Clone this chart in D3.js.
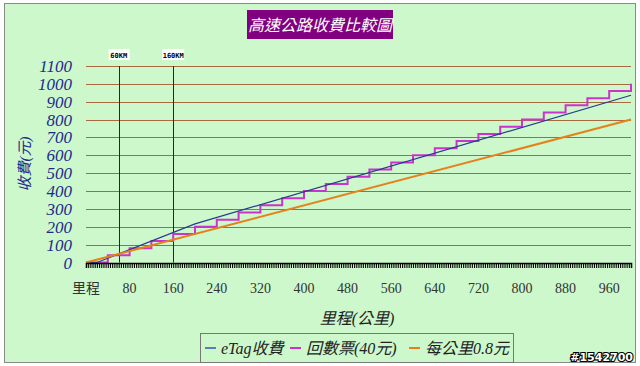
<!DOCTYPE html>
<html>
<head>
<meta charset="utf-8">
<script src="https://cdn.jsdelivr.net/npm/d3@7"></script>
<style>
  body { margin: 0; background: #fff; }
  svg { display: block; }
  .serif { font-family: "Liberation Serif", "Times New Roman", "Noto Sans CJK TC", serif; }
</style>
</head>
<body>
<div id="chart"></div>
<script>
// data
const yTicks = [0, 100, 200, 300, 400, 500, 600, 700, 800, 900, 1000, 1100];
const xTicks = [80, 160, 240, 320, 400, 480, 560, 640, 720, 800, 880, 960];
const markers = [60, 160];

// eTag: breakpoints of the rate (km, fee)
const etagKm = [0, 20, 200, 1000];
const etagFee = [0, 0, 216, 936];

// ticket (40 per step)
const ticketKm = [0, 40, 80, 120, 160, 200, 240, 280, 320, 360, 400, 440, 480, 520,
    560, 600, 640, 680, 720, 760, 800, 840, 880, 920, 960, 1000];
const ticketFee = [0, 40, 80, 120, 160, 200, 240, 280, 320, 360, 400, 440, 480, 520,
    560, 600, 640, 680, 720, 760, 800, 840, 880, 920, 960, 1000];

// 0.8 per km
const flatKm = [0, 1000];
const flatFee = [0, 800];

const width = 640, height = 366;

const svg = d3.select("#chart")
    .append("svg")
    .attr("width", width)
    .attr("height", height);

// chart area background
svg.append("rect")
    .attr("x", 4.5).attr("y", 3.5)
    .attr("width", 631).attr("height", 359)
    .attr("fill", "#ccf8cc")
    .attr("stroke", "#8a8a8a")
    .attr("stroke-width", 1);

const x = d3.scaleLinear().domain([0, 1000]).range([86, 631]);
const y = d3.scaleLinear().domain([0, 1100]).range([262.5, 66]);

// horizontal grid
svg.append("g")
    .selectAll("line")
    .data(yTicks)
    .join("line")
    .attr("x1", x(0)).attr("x2", x(1000))
    .attr("y1", d => Math.round(y(d)) + 0.5)
    .attr("y2", d => Math.round(y(d)) + 0.5)
    .attr("stroke", "#aa6a40")
    .attr("stroke-width", 1);

// y labels
svg.append("g")
    .selectAll("text")
    .data(yTicks)
    .join("text")
    .attr("class", "serif")
    .attr("x", 72)
    .attr("y", d => y(d) + 6)
    .attr("text-anchor", "end")
    .style("font-style", "italic")
    .style("font-size", "17px")
    .attr("fill", "#1c2a8c")
    .text(d => d);

// y title
svg.append("text")
    .attr("class", "serif")
    .attr("transform", "translate(30,164) rotate(-90)")
    .attr("text-anchor", "middle")
    .style("font-style", "italic")
    .style("font-size", "15px")
    .attr("fill", "#1c2a8c")
    .text("收費(元)");

// marker lines at 60 / 160 km
svg.append("g")
    .selectAll("line")
    .data(markers)
    .join("line")
    .attr("x1", d => Math.round(x(d)) + 0.5)
    .attr("x2", d => Math.round(x(d)) + 0.5)
    .attr("y1", y(1100)).attr("y2", y(0))
    .attr("stroke", "#5a1500")
    .attr("stroke-width", 1);

const mk = svg.append("g")
    .selectAll("g")
    .data(markers)
    .join("g")
    .attr("transform", d => `translate(${x(d)},55)`);
mk.append("rect")
    .attr("x", d => d < 100 ? -10 : -11)
    .attr("y", -6)
    .attr("width", d => d < 100 ? 21 : 22)
    .attr("height", 11)
    .attr("fill", "#fff");
mk.append("text")
    .attr("text-anchor", "middle")
    .attr("y", 2.5)
    .style("font-family", "'DejaVu Sans Mono', monospace")
    .style("font-weight", "bold")
    .style("font-size", "7px")
    .attr("fill", "#000")
    .text(d => d + "KM");

// series
const line = d3.line().x(d => x(d[0])).y(d => y(d[1]));

svg.append("path")
    .datum(d3.zip(ticketKm, ticketFee))
    .attr("fill", "none")
    .attr("stroke", "#cc33cc")
    .attr("stroke-width", 2)
    .attr("d", line.curve(d3.curveStepAfter));

svg.append("path")
    .datum(d3.zip(etagKm, etagFee))
    .attr("fill", "none")
    .attr("stroke", "#233d8c")
    .attr("stroke-width", 1.2)
    .attr("d", line.curve(d3.curveLinear));

svg.append("path")
    .datum(d3.zip(flatKm, flatFee))
    .attr("fill", "none")
    .attr("stroke", "#e8801a")
    .attr("stroke-width", 2)
    .attr("d", line.curve(d3.curveLinear));

// dense category ticks along the x axis
svg.append("g")
    .attr("transform", `translate(0,${Math.round(y(0))})`)
    .call(d3.axisBottom(x).tickValues(d3.range(0, 1001, 4)).tickSize(5).tickFormat(""))
    .call(g => g.select(".domain").attr("stroke", "#000").attr("stroke-width", 1.5))
    .call(g => g.selectAll(".tick line").attr("stroke", "#000").attr("stroke-width", 1.1));

// x labels
svg.append("g")
    .selectAll("text")
    .data(xTicks)
    .join("text")
    .attr("class", "serif")
    .attr("x", d => x(d))
    .attr("y", 293)
    .attr("text-anchor", "middle")
    .style("font-size", "14px")
    .attr("fill", "#333")
    .text(d => d);

svg.append("text")
    .attr("class", "serif")
    .attr("x", x(0))
    .attr("y", 293)
    .attr("text-anchor", "middle")
    .style("font-size", "14px")
    .attr("fill", "#333")
    .text("里程");

// x title
svg.append("text")
    .attr("class", "serif")
    .attr("x", 357)
    .attr("y", 324)
    .attr("text-anchor", "middle")
    .style("font-style", "italic")
    .style("font-size", "16px")
    .attr("fill", "#222")
    .text("里程(公里)");

// title box
svg.append("rect")
    .attr("x", 247).attr("y", 10)
    .attr("width", 146).attr("height", 29)
    .attr("fill", "#800080");
svg.append("text")
    .attr("class", "serif")
    .attr("x", 320).attr("y", 31)
    .attr("text-anchor", "middle")
    .style("font-style", "italic")
    .style("font-size", "16px")
    .attr("fill", "#fff")
    .text("高速公路收費比較圖");

// legend
const legendNames = ["eTag收費", "回數票(40元)", "每公里0.8元"];
const legendColors = ["#5a7fb5", "#cc33cc", "#e8801a"];
const legendX = [205, 290, 409];

svg.append("rect")
    .attr("x", 200.5).attr("y", 333.5)
    .attr("width", 313).attr("height", 29)
    .attr("fill", "#ccf8cc")
    .attr("stroke", "#777")
    .attr("stroke-width", 1);

const lg = svg.append("g")
    .selectAll("g")
    .data(legendNames)
    .join("g")
    .attr("transform", (d, i) => `translate(${legendX[i]},348)`);
lg.append("line")
    .attr("x1", 0).attr("x2", 11)
    .attr("stroke", (d, i) => legendColors[i])
    .attr("stroke-width", 2);
lg.append("text")
    .attr("class", "serif")
    .attr("x", 16).attr("y", 6)
    .style("font-style", "italic")
    .style("font-size", "16px")
    .attr("fill", "#222")
    .text(d => d);

// watermark
svg.append("text")
    .attr("x", 633).attr("y", 361)
    .attr("text-anchor", "end")
    .style("font-family", "'DejaVu Sans', sans-serif")
    .style("font-weight", "bold")
    .style("font-size", "11px")
    .attr("fill", "#fff")
    .attr("stroke", "#000")
    .attr("stroke-width", 2.2)
    .attr("paint-order", "stroke")
    .text("#1542700");
</script>
</body>
</html>
